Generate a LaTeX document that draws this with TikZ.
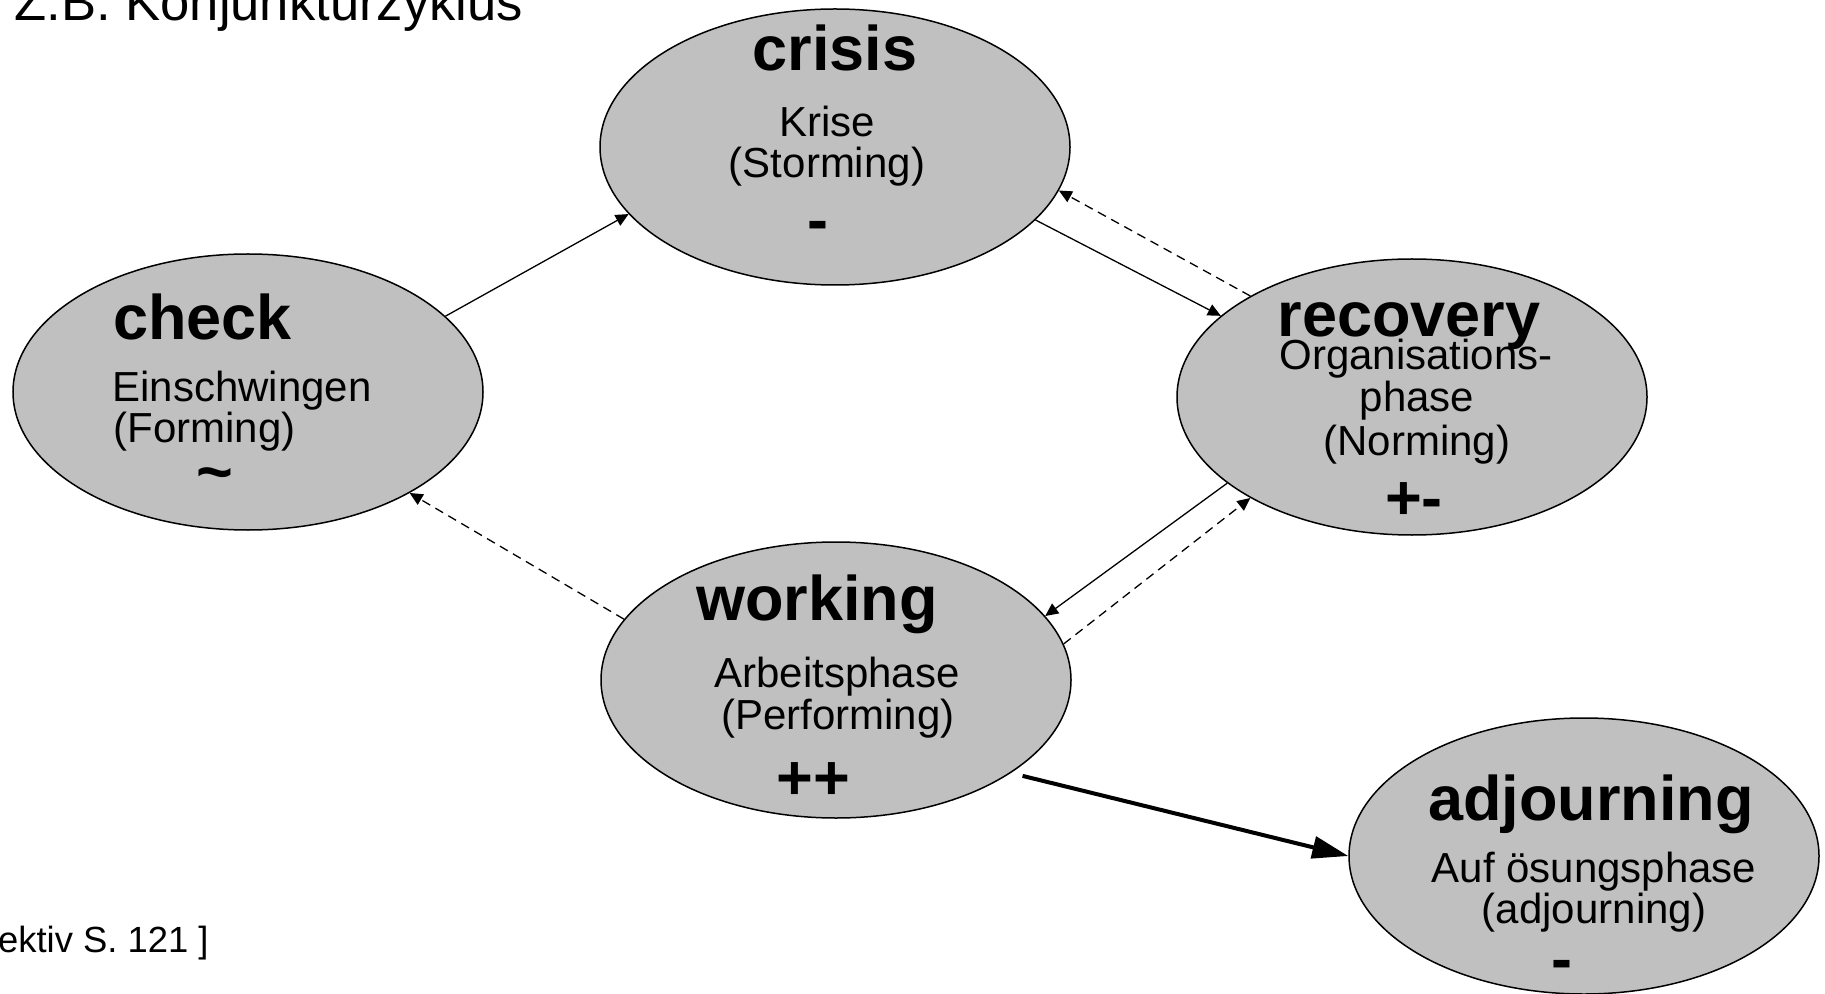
\documentclass[tikz,border=0pt]{standalone}
\usepackage{fontspec}
\setmainfont{Liberation Sans}
\usetikzlibrary{shapes.geometric,arrows.meta}
\definecolor{ellgray}{RGB}{192,192,192}
\tikzset{   phase/.style = {draw, fill=ellgray, line width=0.75pt, ellipse, minimum width=235pt, minimum height=138pt, inner sep=0pt},
            phasename/.style = {font=\bfseries\fontsize{31.5}{31.5}\selectfont, anchor=base, inner sep=0pt},
            phasetext/.style = {font=\fontsize{21}{21}\selectfont, anchor=base, inner sep=0pt},
            flow/.style = {-{Triangle[length=6.5pt, width=6pt]}, line width=0.65pt},
            back/.style = {flow, dash pattern=on 4.5pt off 3pt}}

\begin{document}
\begin{tikzpicture}[x=0.5pt, y=-0.5pt]
    \useasboundingbox(0,0)rectangle(1825,994);
    \node[phasetext, anchor=base west, font=\fontsize{26.3}{26.3}\selectfont](head)at(14,21){Z.B. Konjunkturzyklus};
    \node[phasetext, anchor=base east, font=\fontsize{18.2}{18.2}\selectfont](src)at(209,952){ektiv S. 121 ]};

    % crisis
    \node[phase](crisis)at(835,147){};
    \node[phasename](c1)at(835,71){crisis};
    \node[phasetext](c2)at(827,137){Krise};
    \node[phasetext](c3)at(827,178){(Storming)};
    \node[phasename](c4)at(818,242){-};

    % check
    \node[phase](check)at(248,392){};
    \node[phasename, anchor=base west](k1)at(113,340){check};
    \node[phasetext, anchor=base west](k2)at(112,401){Einschwingen};
    \node[phasetext, anchor=base west](k3)at(113,443){(Forming)};
    \node[phasename](k4)at(215,493){\char`\~};

    % recovery
    \node[phase](recovery)at(1412,397){};
    \node[phasename](r1)at(1409,337){recovery};
    \node[phasetext](r2)at(1416,370){Organisations-};
    \node[phasetext](r3)at(1417,412){phase};
    \node[phasetext](r4)at(1417,455){(Norming)};
    \node[phasename](r5)at(1414,519){+-};

    % working
    \node[phase](working)at(836,680){};
    \node[phasename](w1)at(817,620){working};
    \node[phasetext](w2)at(837,687){Arbeitsphase};
    \node[phasetext](w3)at(838,729){(Performing)};
    \node[phasename](w4)at(813,799){++};

    % adjourning
    \node[phase](adjourning)at(1584,856){};
    \node[phasename](a1)at(1591,820){adjourning};
    \node[phasetext](a2)at(1594,882){Auf ösungsphase};
    \node[phasetext](a3)at(1594,923){(adjourning)};
    \node[phasename](a4)at(1562,980){-};

    % connectors
    \draw[flow](check.21)--(crisis.198);
    \draw[flow](crisis.340)--(recovery.157);
    \draw[back](recovery.148)--(crisis.349);
    \draw[flow](recovery.205)--(working.17);
    \draw[back](working.9)--(recovery.212);
    \draw[back](working.164)--(check.328);
    \draw[-{Triangle[length=18pt, width=11pt]}, line width=2pt, shorten <=6pt](working.332)--(adjourning.west);
\end{tikzpicture}
\end{document}
